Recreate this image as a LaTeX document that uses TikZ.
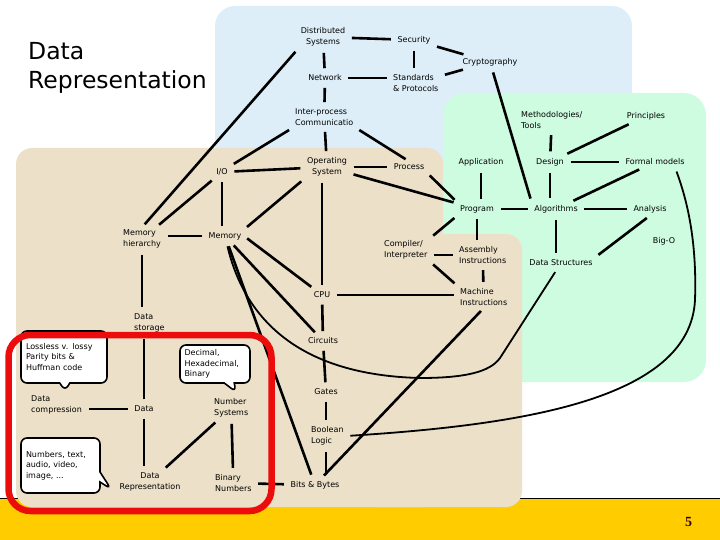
\documentclass[tikz,border=0pt]{standalone}
\usepackage{fontspec}
\setmainfont{DejaVu Sans}
\newfontfamily\numfont{Liberation Serif}
\usetikzlibrary{shapes.callouts}
\definecolor{bgblue}{RGB}{221,238,248}
\definecolor{bggreen}{RGB}{206,252,224}
\definecolor{bgbeige}{RGB}{236,224,200}
\definecolor{baryellow}{RGB}{255,204,0}
\definecolor{redbox}{RGB}{236,12,12}
\definecolor{numcol}{RGB}{51,0,0}
\begin{document}
\begin{tikzpicture}[x=1pt,y=-1pt,
  lbl/.style={font=\fontsize{8}{10.5}\selectfont, align=center, inner sep=2.5pt},
  lbll/.style={lbl, align=left, anchor=west},
  lnk/.style={line width=2.6pt, shorten <=4pt, shorten >=4pt},
  crv/.style={line width=1.8pt, shorten <=4pt, shorten >=4pt},
  bubble/.style={rectangle callout, draw=black, fill=white, line width=1.6pt,
     rounded corners=6pt, font=\fontsize{8}{10.5}\selectfont, align=left,
     inner xsep=5pt, inner ysep=2pt, callout pointer width=10pt}
]
\useasboundingbox (0,0) rectangle (720,540);
% backgrounds
\fill[baryellow] (0,498) rectangle (720,540);
\draw[line width=1pt] (0,498) -- (720,498);
\fill[bgblue, rounded corners=20pt] (215,6) rectangle (632,210);
\fill[bgbeige, rounded corners=16pt] (16,148) rectangle (443,507);
\fill[bggreen, rounded corners=22pt] (443,93) rectangle (706,382);
\fill[bgbeige, rounded corners=16pt] (360,234) rectangle (522,507);

% title
\node[anchor=north west, inner sep=0pt, align=left, font=\fontsize{23.5}{29.5}\selectfont] (title) at (28,42) {Data\\Representation};

% nodes
\node[lbl] (ds) at (323,37) {Distributed\\Systems};
\node[lbl] (sec) at (414,40) {Security};
\node[lbl] (cry) at (490,62) {Cryptography};
\node[lbl] (net) at (325,78) {Network};
\node[lbll] (std) at (390.5,83) {Standards\\\& Protocols};
\node[lbll] (ipc) at (292.5,117) {Inter-process\\Communicatio};
\node[lbll] (meth) at (518.5,120) {Methodologies/\\Tools};
\node[lbl] (pri) at (646,116) {Principles};
\node[lbl] (io) at (222,172) {I/O};
\node[lbl] (os) at (327,167) {Operating\\System};
\node[lbl] (proc) at (409,167) {Process};
\node[lbl] (app) at (481,162) {Application};
\node[lbl] (des) at (550,162) {Design};
\node[lbl] (fm) at (655,162) {Formal models};
\node[lbl] (prog) at (477,209) {Program};
\node[lbl] (alg) at (556,209) {Algorithms};
\node[lbl] (ana) at (650,209) {Analysis};
\node[lbll] (mh) at (120.5,239) {Memory\\hierarchy};
\node[lbl] (mem) at (225,236) {Memory};
\node[lbll] (comp) at (381.5,250) {Compiler/\\Interpreter};
\node[lbll] (asm) at (456.5,255) {Assembly\\Instructions};
\node[lbl] (bigo) at (664,241) {Big-O};
\node[lbl] (dstr) at (561,263) {Data Structures};
\node[lbl] (cpu) at (322,295) {CPU};
\node[lbll] (mi) at (457.5,297) {Machine\\Instructions};
\node[lbll] (dsto) at (131.5,323) {Data\\storage};
\node[lbl] (circ) at (323,341) {Circuits};
\node[lbl] (gates) at (326,392) {Gates};
\node[lbll] (dcomp) at (28.5,405) {Data\\compression};
\node[lbl] (data) at (144,409) {Data};
\node[lbll] (ns) at (211.5,408) {Number\\Systems};
\node[lbll] (bool) at (308.5,436) {Boolean\\Logic};
\node[lbl] (drep) at (150,482) {Data\\Representation};
\node[lbll] (bn) at (212.5,483) {Binary\\Numbers};
\node[lbl] (bb) at (315,485) {Bits \& Bytes};

% connectors
\draw[lnk] (ds) -- (sec);
\draw[lnk] (sec) -- (cry);
\draw[lnk] (ds) -- (net);
\draw[lnk] (sec) -- (sec |- std.north);
\draw[lnk] (net) -- (net -| std.west);
\draw[lnk] (std) -- (cry);
\draw[lnk] (net) -- (ipc);
\draw[lnk] (ipc) -- (os);
\draw[lnk] (ipc.south west) -- (io.north east);
\draw[lnk] (ipc.south east) -- (proc.north);
\draw[lnk] (ds.south west) -- (mh.north);
\draw[lnk] (io) -- (mh);
\draw[lnk] (io) -- (os);
\draw[lnk] (io) -- (io |- mem.north);
\draw[lnk] (os.south west) -- (mem.north east);
\draw[lnk] (os) -- (proc);
\draw[lnk] (os) -- (prog);
\draw[lnk] (cpu |- os.south) -- (cpu);
\draw[lnk] (proc.south east) -- (prog.north west);
\draw[lnk] (cry) -- (alg.north west);
\draw[lnk] (app) -- (app |- prog.north);
\draw[lnk] (meth) -- (des);
\draw[lnk] (pri) -- (des);
\draw[lnk] (des) -- (fm);
\draw[lnk] (des) -- (des |- alg.north);
\draw[lnk] (fm) -- (alg);
\draw[lnk] (prog) -- (alg);
\draw[lnk] (alg) -- (ana);
\draw[lnk] (alg) -- (alg |- dstr.north);
\draw[lnk] (ana.south) -- (dstr.north east);
\draw[lnk] (prog.south west) -- (comp.north east);
\draw[lnk] (prog) -- (prog |- asm.north);
\draw[lnk] (asm) -- (asm -| comp.east);
\draw[lnk] (comp.south east) -- (mi.north west);
\draw[lnk] (asm) -- (mi);
\draw[lnk] (mh) -- (mh |- dsto.north);
\draw[lnk] (mem) -- (mem -| mh.east);
\draw[lnk] (mem.east) -- (cpu);
\draw[lnk] (mem) -- (circ);
\draw[lnk] (mem) -- (bb);
\draw[crv] (mem) .. controls (245,320) and (300,375) .. (420,378) .. controls (465,378) and (490,372) .. (500,358) -- (dstr);
\draw[lnk] (cpu) -- (cpu -| mi.west);
\draw[lnk] (cpu) -- (circ);
\draw[lnk] (circ) -- (gates);
\draw[lnk] (gates) -- (gates |- bool.north);
\draw[lnk] (gates |- bool.south) -- (gates |- bb.north);
\draw[crv] (bool.east) .. controls (520,425) and (690,400) .. (695,300) .. controls (697,240) and (687,200) .. ([xshift=-12pt]fm.south east);
\draw[lnk] (mi.south) -- (bb);
\draw[lnk] (data) -- (data |- dsto.south);
\draw[lnk] (data) -- (data -| dcomp.east);
\draw[lnk] (data) -- (data |- drep.north);
\draw[lnk] (ns) -- (drep);
\draw[lnk] (ns) -- (bn);
\draw[lnk] (bn) -- (bb);

% callouts
\node[bubble, text width=76pt, minimum height=52pt, callout absolute pointer={(65,391)}] (c1) at (64,357) {Lossless v. lossy\\Parity bits \&\\Huffman code};
\node[bubble, text width=61pt, inner xsep=4.5pt, minimum height=38pt, callout absolute pointer={(236,392)}] (c2) at (215,364) {Decimal,\\Hexadecimal,\\Binary};
\node[bubble, text width=69pt, minimum height=55pt, callout absolute pointer={(111,489)}] (c3) at (60.5,465.5) {Numbers, text,\\audio, video,\\image, ...};

% red frame
\draw[redbox, line width=6.5pt, rounded corners=22pt] (8.5,335) rectangle (271.5,511);

% page number
\node[font={\numfont\bfseries\fontsize{14}{16}\selectfont}, text=numcol, inner sep=0pt] (pg) at (688.5,522) {5};
\end{tikzpicture}
\end{document}
